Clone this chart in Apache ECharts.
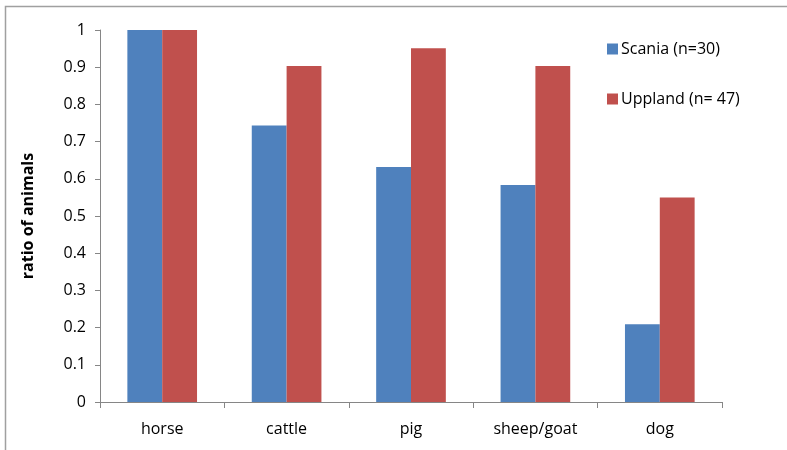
<!DOCTYPE html>
<html><head><meta charset="utf-8">
<script src="https://cdn.jsdelivr.net/npm/echarts@6/dist/echarts.min.js"></script>
<style>html,body{margin:0;padding:0;background:#fff}#c{width:787px;height:450px}</style>
</head><body><div id="c"></div>
<script>
const categories = ['horse', 'cattle', 'pig', 'sheep/goat', 'dog'];
const scania = [1.0, 0.743, 0.632, 0.583, 0.209];
const uppland = [1.0, 0.903, 0.951, 0.903, 0.55];
const seriesNames = ['Scania (n=30)', 'Uppland (n= 47)'];
const yTitle = 'ratio of animals';

const font = 'Open Sans';
const axisColor = '#868686';
const chart = echarts.init(document.getElementById('c'), null, {renderer: 'canvas'});
chart.setOption({
  animation: false,
  textStyle: {fontFamily: font},
  graphic: [{type: 'rect', shape: {x: 5.5, y: 6.5, width: 900, height: 600}, style: {fill: null, stroke: '#a0a0a0', lineWidth: 1.5}, silent: true}],
  grid: {left: 100, right: 65, top: 30, bottom: 48},
  legend: {
    orient: 'vertical', left: 602, top: 36, itemWidth: 11, itemHeight: 11, itemGap: 34,
    icon: 'rect', textStyle: {fontFamily: font, fontSize: 16, color: '#000', padding: [0, 0, 0, -2]},
    data: seriesNames
  },
  xAxis: {
    type: 'category', data: categories,
    axisLine: {lineStyle: {color: axisColor, width: 1}},
    axisTick: {show: true, length: 6, lineStyle: {color: axisColor}},
    axisLabel: {color: '#000', fontSize: 16, margin: 19, fontFamily: font}
  },
  yAxis: {
    type: 'value', min: 0, max: 1, interval: 0.1,
    name: yTitle, nameLocation: 'middle', nameGap: 64, nameRotate: 90,
    nameTextStyle: {fontWeight: 'bold', fontSize: 16, color: '#000', fontFamily: font},
    axisLine: {show: true, lineStyle: {color: axisColor}},
    axisTick: {show: true, length: 5, lineStyle: {color: axisColor}},
    splitLine: {show: false},
    axisLabel: {color: '#000', fontSize: 16, margin: 14, fontFamily: font,
      formatter: v => (Math.round(v * 10) / 10).toString()}
  },
  series: [
    {name: seriesNames[0], type: 'bar', data: scania, barGap: '0%', barCategoryGap: '44%',
     itemStyle: {color: '#4F81BD'}},
    {name: seriesNames[1], type: 'bar', data: uppland, barGap: '0%', barCategoryGap: '44%',
     itemStyle: {color: '#C0504D'}}
  ]
});
</script></body></html>
